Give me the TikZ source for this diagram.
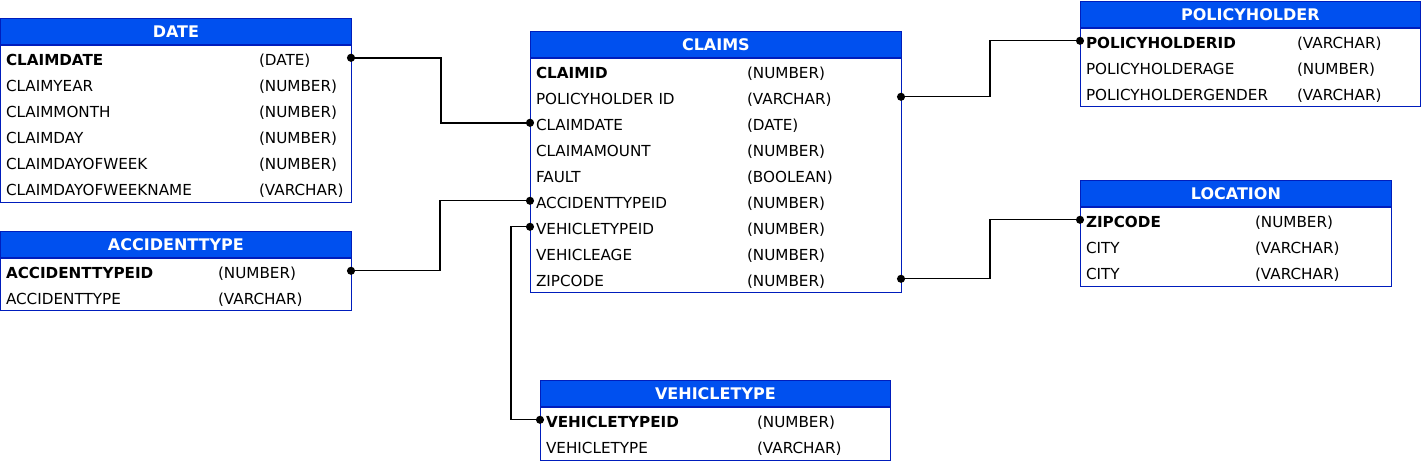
\documentclass[tikz,border=0pt]{standalone}
\usepackage{fontspec}
\setmainfont{DejaVu Sans}
\usepackage{tikz}
\usetikzlibrary{arrows.meta,positioning}
\definecolor{erblue}{HTML}{0050EF}
\definecolor{erborder}{HTML}{001DBC}
\newcommand{\fieldrow}[3]{\makebox[#1][l]{#2}#3}
\tikzset{
  erhead/.style={draw=erborder, line width=0.8pt, fill=erblue, text=white, font=\fontsize{16}{18}\selectfont\bfseries, minimum height=26pt, inner sep=0pt, anchor=north west},
  erbody/.style={draw=erborder, line width=0.8pt, fill=white, inner sep=0pt, anchor=north west},
  errow/.style={minimum height=26pt, inner xsep=6pt, inner ysep=0pt, outer sep=0pt, font=\fontsize{15.2}{17}\selectfont, align=left},
  erlink/.style={{Circle[length=8pt]}-{Circle[length=8pt]}, line width=1.2pt, shorten <=-4pt, shorten >=-4pt},
  erkeylink/.style={erlink, line width=1.9pt}
}

\begin{document}
\begin{tikzpicture}[x=1pt, y=-1pt]
  \useasboundingbox (0,0) rectangle (1421,462);

  % DATE
  \node[erhead, minimum width=351pt] (date) at (0,18) {DATE};
  \node[erbody, minimum width=351pt, minimum height=157pt] (date-body) at (date.south west) {};
  \node[errow, text width=339pt, below=3pt of date.south west, anchor=north west] (date-claimdate) {\fieldrow{253pt}{\textbf{CLAIMDATE}}{(DATE)}};
  \node[errow, text width=339pt, below=0pt of date-claimdate] (date-claimyear) {\fieldrow{253pt}{CLAIMYEAR}{(NUMBER)}};
  \node[errow, text width=339pt, below=0pt of date-claimyear] (date-claimmonth) {\fieldrow{253pt}{CLAIMMONTH}{(NUMBER)}};
  \node[errow, text width=339pt, below=0pt of date-claimmonth] (date-claimday) {\fieldrow{253pt}{CLAIMDAY}{(NUMBER)}};
  \node[errow, text width=339pt, below=0pt of date-claimday] (date-dayofweek) {\fieldrow{253pt}{CLAIMDAYOFWEEK}{(NUMBER)}};
  \node[errow, text width=339pt, below=0pt of date-dayofweek] (date-dayofweekname) {\fieldrow{253pt}{CLAIMDAYOFWEEKNAME}{(VARCHAR)}};

  % ACCIDENTTYPE
  \node[erhead, minimum width=351pt] (acc) at (0,231) {ACCIDENTTYPE};
  \node[erbody, minimum width=351pt, minimum height=52pt] (acc-body) at (acc.south west) {};
  \node[errow, text width=339pt, below=3pt of acc.south west, anchor=north west] (acc-accidenttypeid) {\fieldrow{212pt}{\textbf{ACCIDENTTYPEID}}{(NUMBER)}};
  \node[errow, text width=339pt, below=0pt of acc-accidenttypeid] (acc-accidenttype) {\fieldrow{212pt}{ACCIDENTTYPE}{(VARCHAR)}};

  % CLAIMS
  \node[erhead, minimum width=371pt] (claims) at (530,31) {CLAIMS};
  \node[erbody, minimum width=371pt, minimum height=234pt] (claims-body) at (claims.south west) {};
  \node[errow, text width=359pt, below=3pt of claims.south west, anchor=north west] (claims-claimid) {\fieldrow{211pt}{\textbf{CLAIMID}}{(NUMBER)}};
  \node[errow, text width=359pt, below=0pt of claims-claimid] (claims-policyholderid) {\fieldrow{211pt}{POLICYHOLDER ID}{(VARCHAR)}};
  \node[errow, text width=359pt, below=0pt of claims-policyholderid] (claims-claimdate) {\fieldrow{211pt}{CLAIMDATE}{(DATE)}};
  \node[errow, text width=359pt, below=0pt of claims-claimdate] (claims-claimamount) {\fieldrow{211pt}{CLAIMAMOUNT}{(NUMBER)}};
  \node[errow, text width=359pt, below=0pt of claims-claimamount] (claims-fault) {\fieldrow{211pt}{FAULT}{(BOOLEAN)}};
  \node[errow, text width=359pt, below=0pt of claims-fault] (claims-accidenttypeid) {\fieldrow{211pt}{ACCIDENTTYPEID}{(NUMBER)}};
  \node[errow, text width=359pt, below=0pt of claims-accidenttypeid] (claims-vehicletypeid) {\fieldrow{211pt}{VEHICLETYPEID}{(NUMBER)}};
  \node[errow, text width=359pt, below=0pt of claims-vehicletypeid] (claims-vehicleage) {\fieldrow{211pt}{VEHICLEAGE}{(NUMBER)}};
  \node[errow, text width=359pt, below=0pt of claims-vehicleage] (claims-zipcode) {\fieldrow{211pt}{ZIPCODE}{(NUMBER)}};

  % POLICYHOLDER
  \node[erhead, minimum width=340pt] (policy) at (1080,1) {POLICYHOLDER};
  \node[erbody, minimum width=340pt, minimum height=78pt] (policy-body) at (policy.south west) {};
  \node[errow, text width=328pt, below=3pt of policy.south west, anchor=north west] (policy-policyholderid) {\fieldrow{211pt}{\textbf{POLICYHOLDERID}}{(VARCHAR)}};
  \node[errow, text width=328pt, below=0pt of policy-policyholderid] (policy-age) {\fieldrow{211pt}{POLICYHOLDERAGE}{(NUMBER)}};
  \node[errow, text width=328pt, below=0pt of policy-age] (policy-gender) {\fieldrow{211pt}{POLICYHOLDERGENDER}{(VARCHAR)}};

  % LOCATION
  \node[erhead, minimum width=311pt] (location) at (1080,180) {LOCATION};
  \node[erbody, minimum width=311pt, minimum height=79pt] (location-body) at (location.south west) {};
  \node[errow, text width=299pt, below=3pt of location.south west, anchor=north west] (location-zipcode) {\fieldrow{169pt}{\textbf{ZIPCODE}}{(NUMBER)}};
  \node[errow, text width=299pt, below=0pt of location-zipcode] (location-city) {\fieldrow{169pt}{CITY}{(VARCHAR)}};
  \node[errow, text width=299pt, below=0pt of location-city] (location-city2) {\fieldrow{169pt}{CITY}{(VARCHAR)}};

  % VEHICLETYPE
  \node[erhead, minimum width=350pt] (vehicle) at (540,380) {VEHICLETYPE};
  \node[erbody, minimum width=350pt, minimum height=53pt] (vehicle-body) at (vehicle.south west) {};
  \node[errow, text width=338pt, below=3pt of vehicle.south west, anchor=north west] (vehicle-vehicletypeid) {\fieldrow{211pt}{\textbf{VEHICLETYPEID}}{(NUMBER)}};
  \node[errow, text width=338pt, below=0pt of vehicle-vehicletypeid] (vehicle-vehicletype) {\fieldrow{211pt}{VEHICLETYPE}{(VARCHAR)}};

  % relations
  \draw[erkeylink] ([yshift=3pt]date-claimdate.east) -- ++(90,0) |- ([yshift=3pt]claims-claimdate.west);
  \draw[erlink] ([yshift=3pt]acc-accidenttypeid.east) -- ++(89,0) |- ([yshift=3pt]claims-accidenttypeid.west);
  \draw[erlink] ([yshift=3pt]claims-vehicletypeid.west) -- ++(-19,0) |- ([yshift=3pt]vehicle-vehicletypeid.west);
  \draw[erlink] ([yshift=3pt]claims-policyholderid.east) -- ++(89,0) |- ([yshift=3pt]policy-policyholderid.west);
  \draw[erlink] ([yshift=3pt]claims-zipcode.east) -- ++(89,0) |- ([yshift=3pt]location-zipcode.west);
\end{tikzpicture}
\end{document}
